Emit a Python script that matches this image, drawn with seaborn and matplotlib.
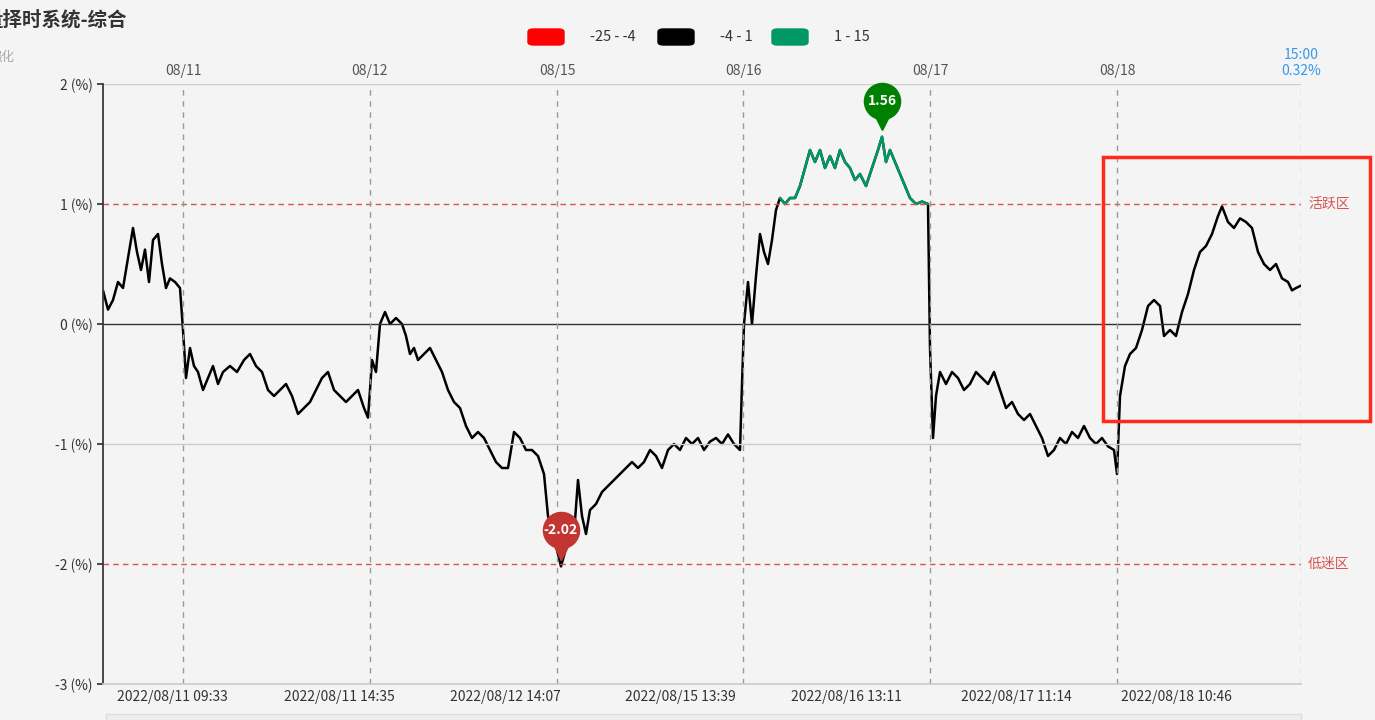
import matplotlib
matplotlib.use("Agg")
import matplotlib.pyplot as plt
import seaborn as sns
import numpy as np
import pandas as pd
from matplotlib.patches import Rectangle, FancyBboxPatch

pos = [0,5,10,15,20,25,30,34,38,42,46,50,55,59,63,67,72,77,80,83,87,91,95,100,105,110,115,120,127,134,141,147,153,159,165,171,177,183,189,195,201,207,213,219,225,231,237,243,249,255,261,265,267,269,273,277,282,287,293,299,303,307,311,315,321,327,333,339,345,351,357,363,369,375,381,387,393,399,405,411,417,423,429,435,441,445,449,453,458,462,467,471,475,479,483,487,493,499,505,511,517,523,529,535,541,547,553,559,565,571,577,583,589,595,601,607,613,619,625,631,637,639,641,645,649,653,657,661,665,669,673,677,682,687,692,697,702,707,712,717,722,727,732,737,742,747,752,757,763,769,775,779,783,787,792,797,802,807,813,819,825,827,830,833,837,843,849,855,861,867,873,879,885,891,897,903,909,915,921,927,933,939,945,951,957,963,969,975,981,987,993,999,1005,1011,1014,1017,1022,1027,1033,1039,1045,1051,1057,1061,1067,1073,1079,1085,1091,1097,1103,1109,1115,1119,1125,1131,1137,1143,1149,1155,1161,1167,1173,1179,1185,1189,1193,1198]
vals = [0.28,0.12,0.2,0.35,0.3,0.55,0.8,0.6,0.45,0.62,0.35,0.7,0.75,0.5,0.3,0.38,0.35,0.3,-0.05,-0.45,-0.2,-0.35,-0.4,-0.55,-0.45,-0.35,-0.5,-0.4,-0.35,-0.4,-0.3,-0.25,-0.35,-0.4,-0.55,-0.6,-0.55,-0.5,-0.6,-0.75,-0.7,-0.65,-0.55,-0.45,-0.4,-0.55,-0.6,-0.65,-0.6,-0.55,-0.7,-0.78,-0.55,-0.3,-0.4,0.0,0.1,0.0,0.05,0.0,-0.1,-0.25,-0.2,-0.3,-0.25,-0.2,-0.3,-0.4,-0.55,-0.65,-0.7,-0.85,-0.95,-0.9,-0.95,-1.05,-1.15,-1.2,-1.2,-0.9,-0.95,-1.05,-1.05,-1.1,-1.25,-1.6,-1.75,-1.85,-2.02,-1.9,-1.7,-1.75,-1.3,-1.6,-1.75,-1.55,-1.5,-1.4,-1.35,-1.3,-1.25,-1.2,-1.15,-1.2,-1.15,-1.05,-1.1,-1.2,-1.05,-1.0,-1.05,-0.95,-1.0,-0.95,-1.05,-0.98,-0.95,-1.0,-0.92,-1.0,-1.05,-0.5,0.0,0.35,0.0,0.4,0.75,0.6,0.5,0.7,0.95,1.05,1.0,1.05,1.05,1.15,1.3,1.45,1.35,1.45,1.3,1.4,1.3,1.45,1.35,1.3,1.2,1.25,1.15,1.3,1.45,1.56,1.35,1.45,1.35,1.25,1.15,1.05,1.0,1.02,1.0,-0.2,-0.95,-0.6,-0.4,-0.5,-0.4,-0.45,-0.55,-0.5,-0.4,-0.45,-0.5,-0.4,-0.55,-0.7,-0.65,-0.75,-0.8,-0.75,-0.85,-0.95,-1.1,-1.05,-0.95,-1.0,-0.9,-0.95,-0.85,-0.95,-1.0,-0.95,-1.02,-1.05,-1.25,-0.6,-0.35,-0.25,-0.2,-0.05,0.15,0.2,0.15,-0.1,-0.05,-0.1,0.1,0.25,0.45,0.6,0.65,0.75,0.9,0.98,0.85,0.8,0.88,0.85,0.8,0.6,0.5,0.45,0.5,0.38,0.35,0.28,0.3,0.32]
top_ticks = [80, 267, 454, 640, 827, 1014, 1198]
top_labels = ["08/11", "08/12", "08/15", "08/16", "08/17", "08/18", "15:00\n0.32%"]
bottom_ticks = [69, 236, 402, 577, 743, 913, 1073]
bottom_labels = ["2022/08/11 09:33", "2022/08/11 14:35", "2022/08/12 14:07", "2022/08/15 13:39",
                 "2022/08/16 13:11", "2022/08/17 11:14", "2022/08/18 10:46"]
y_ticks = [2, 1, 0, -1, -2, -3]
legend_labels = ["-25 - -4", "-4 - 1", "1 - 15"]
legend_colors = ["#ff0000", "#000000", "#009966"]

sns.set_theme(style="white")
plt.rcParams['font.family'] = ['Noto Sans CJK SC', 'DejaVu Sans']
bg = "#f4f4f4"
fig = plt.figure(figsize=(13.75, 7.2), dpi=100, facecolor=bg)
ax = fig.add_axes([103/1375, 36/720, 1198/1375, 600/720])
ax.set_facecolor(bg)
df = pd.DataFrame({"pos": pos, "val": vals})
sns.lineplot(data=df, x="pos", y="val", ax=ax, color="black", lw=1.8)
g = df["val"].where(df["val"] >= 1.0)
ax.plot(df["pos"], g, color="#009966", lw=1.8)
ax.set_xlim(0, 1198); ax.set_ylim(-3, 2)
ax.set_xlabel(""); ax.set_ylabel("")
for y, c in [(2, "#cccccc"), (-1, "#cccccc")]:
    ax.axhline(y, color=c, lw=1)
ax.axhline(0, color="#333333", lw=1)
for y, t in [(1, "活跃区"), (-2, "低迷区")]:
    ax.axhline(y, color="#d9534f", lw=1, ls=(0, (4, 3)))
    ax.text(1205, y, t, color="#d9534f", va="center", fontsize=10, clip_on=False)
for i, x in enumerate(top_ticks):
    ax.axvline(x, color="#999999" if i < 6 else "#99bbee", lw=1, ls=(0, (4, 4)))
ax.set_yticks(y_ticks)
ax.set_yticklabels([f"{v} (%)" for v in y_ticks], fontsize=10, color="#333333")
ax.set_xticks(bottom_ticks)
ax.set_xticklabels(bottom_labels, fontsize=10, color="#333333")
ax.tick_params(axis="x", length=0, pad=4)
ax.tick_params(axis="y", length=4, left=True, color="#333333")
for s in ["top", "right"]:
    ax.spines[s].set_visible(False)
ax.spines["left"].set_color("#333333")
ax.spines["bottom"].set_color("#cccccc")
ax2 = ax.secondary_xaxis("top")
ax2.set_xticks(top_ticks)
ax2.set_xticklabels(top_labels, fontsize=10)
for lab in ax2.get_xticklabels()[:6]:
    lab.set_color("#555555")
ax2.get_xticklabels()[6].set_color("#3399ee")
ax2.tick_params(length=0, pad=4)
ax2.spines["top"].set_visible(False)

# pins
for x, y, c, t in [(779, 1.56, "#008000", "1.56"), (458, -2.02, "#c23531", "-2.02")]:
    ax.plot([x], [y + 0.12], marker="v", ms=12, color=c, clip_on=False)
    ax.plot([x], [y + 0.3], marker="o", ms=26, color=c, clip_on=False)
    ax.text(x, y + 0.3, t, color="white", ha="center", va="center", fontsize=10, fontweight="bold")

# title
fig.text(-0.012, 0.965, "量择时系统-综合", fontsize=14, fontweight="bold", color="#333333")
fig.text(-0.008, 0.915, "强化", fontsize=9, color="#aaaaaa")
# legend
for i, (lab, col) in enumerate(zip(legend_labels, legend_colors)):
    x0 = [528, 658, 772][i]
    fig.patches.append(FancyBboxPatch((x0/1375, 675/720), 36/1375, 16/720, boxstyle="round,pad=0,rounding_size=0.004",
                                      transform=fig.transFigure, color=col))
    fig.text((x0 + 62)/1375, 683/720, lab, fontsize=10.5, color="#333333", va="center")
# red box
fig.patches.append(Rectangle((1103/1375, (720-421)/720), 267/1375, 264/720, transform=fig.transFigure,
                             fill=False, ec="#ff2a1a", lw=2.5))
# scrollbar
fig.patches.append(Rectangle((106/1375, 0), 1195/1375, 6/720, transform=fig.transFigure, fc="#eeeeee", ec="#dddddd"))
fig.savefig("out.png", dpi=100, facecolor=bg)
